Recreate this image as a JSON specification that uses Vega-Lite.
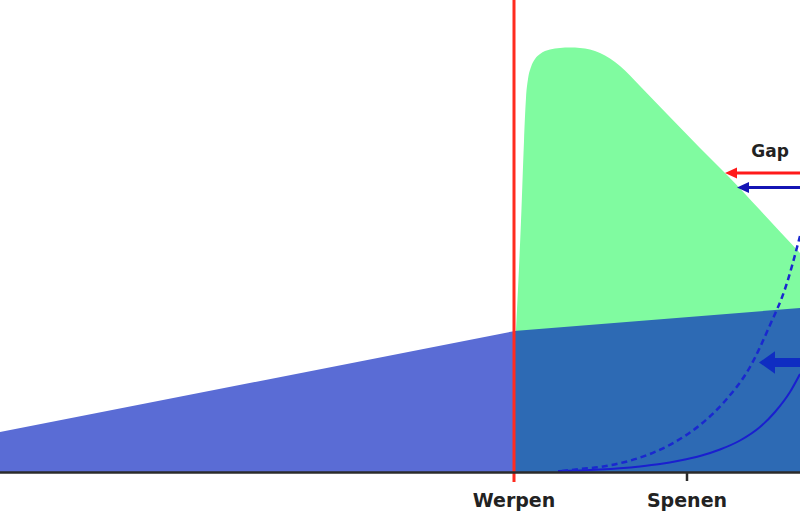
{
  "$schema": "https://vega.github.io/schema/vega-lite/v6.json",
  "width": 800,
  "height": 513,
  "autosize": {"type": "none"},
  "padding": 0,
  "background": "#ffffff",
  "config": {"view": {"stroke": null}},
  "datasets": {
    "green": [
      {"x": 516, "y": 141}, {"x": 521, "y": 250}, {"x": 524, "y": 330}, {"x": 526, "y": 373},
      {"x": 528, "y": 392}, {"x": 531, "y": 404}, {"x": 535, "y": 412}, {"x": 540, "y": 417},
      {"x": 550, "y": 421.5}, {"x": 560, "y": 423}, {"x": 570, "y": 423.5}, {"x": 580, "y": 423},
      {"x": 590, "y": 421.5}, {"x": 600, "y": 418}, {"x": 610, "y": 412.5}, {"x": 620, "y": 405},
      {"x": 630, "y": 395.5}, {"x": 640, "y": 385}, {"x": 667, "y": 357}, {"x": 700, "y": 323},
      {"x": 727, "y": 296}, {"x": 760, "y": 261}, {"x": 800, "y": 218}
    ],
    "blue": [{"x": 0, "y": 39}, {"x": 515, "y": 140}],
    "darkblue": [{"x": 514, "y": 140}, {"x": 800, "y": 163}],
    "solid": [
      {"x": 558, "y": 0}, {"x": 580, "y": 0.6}, {"x": 600, "y": 1.5}, {"x": 620, "y": 2.8},
      {"x": 640, "y": 4.6}, {"x": 660, "y": 7}, {"x": 680, "y": 10.5}, {"x": 700, "y": 15},
      {"x": 720, "y": 21.5}, {"x": 740, "y": 30.5}, {"x": 760, "y": 44}, {"x": 775, "y": 59},
      {"x": 790, "y": 79}, {"x": 800, "y": 97}
    ],
    "dashed": [
      {"x": 562, "y": 0}, {"x": 580, "y": 2}, {"x": 600, "y": 4}, {"x": 625, "y": 9},
      {"x": 650, "y": 17}, {"x": 675, "y": 29}, {"x": 700, "y": 46}, {"x": 725, "y": 70},
      {"x": 750, "y": 104}, {"x": 770, "y": 146}, {"x": 785, "y": 182}, {"x": 800, "y": 235}
    ],
    "labels": [
      {"x": 514, "y": -36, "text": "Werpen"},
      {"x": 687, "y": -36, "text": "Spenen"}
    ]
  },
  "encoding": {
    "x": {"type": "quantitative", "scale": {"domain": [0, 800], "nice": false, "zero": false}, "axis": null},
    "y": {"type": "quantitative", "scale": {"domain": [-42, 471], "nice": false, "zero": false}, "axis": null}
  },
  "layer": [
    {
      "data": {"name": "green"},
      "mark": {"type": "area", "interpolate": "monotone", "color": "#80fba0", "clip": true},
      "encoding": {"x": {"field": "x", "type": "quantitative"}, "y": {"field": "y", "type": "quantitative"}, "y2": {"datum": -1}}
    },
    {
      "data": {"name": "blue"},
      "mark": {"type": "area", "color": "#5a6cd5", "clip": true},
      "encoding": {"x": {"field": "x", "type": "quantitative"}, "y": {"field": "y", "type": "quantitative"}, "y2": {"datum": -1}}
    },
    {
      "data": {"name": "darkblue"},
      "mark": {"type": "area", "color": "#2d6ab4", "clip": true},
      "encoding": {"x": {"field": "x", "type": "quantitative"}, "y": {"field": "y", "type": "quantitative"}, "y2": {"datum": -1}}
    },
    {
      "data": {"name": "solid"},
      "mark": {"type": "line", "interpolate": "monotone", "color": "#1a1fcf", "strokeWidth": 2, "clip": true},
      "encoding": {"x": {"field": "x", "type": "quantitative"}, "y": {"field": "y", "type": "quantitative"}}
    },
    {
      "data": {"name": "dashed"},
      "mark": {"type": "line", "interpolate": "monotone", "color": "#1a28cf", "strokeWidth": 2.5, "strokeDash": [6, 4], "clip": true},
      "encoding": {"x": {"field": "x", "type": "quantitative"}, "y": {"field": "y", "type": "quantitative"}}
    },
    {
      "data": {"values": [{"x": 514, "y": 471, "y2": -11}]},
      "mark": {"type": "rule", "color": "#ff2b1f", "strokeWidth": 3},
      "encoding": {"x": {"field": "x", "type": "quantitative"}, "y": {"field": "y", "type": "quantitative"}, "y2": {"field": "y2"}}
    },
    {
      "data": {"values": [{"x": 0, "x2": 800, "y": -1.5}]},
      "mark": {"type": "rule", "color": "#2b2b2b", "strokeWidth": 2.5},
      "encoding": {"x": {"field": "x", "type": "quantitative"}, "x2": {"field": "x2"}, "y": {"field": "y", "type": "quantitative"}}
    },
    {
      "data": {"values": [{"x": 687, "y": -1, "y2": -10}]},
      "mark": {"type": "rule", "color": "#2b2b2b", "strokeWidth": 2.5},
      "encoding": {"x": {"field": "x", "type": "quantitative"}, "y": {"field": "y", "type": "quantitative"}, "y2": {"field": "y2"}}
    },
    {
      "data": {"values": [{"x": 734, "x2": 800, "y": 298}]},
      "mark": {"type": "rule", "color": "#ff1a1a", "strokeWidth": 3},
      "encoding": {"x": {"field": "x", "type": "quantitative"}, "x2": {"field": "x2"}, "y": {"field": "y", "type": "quantitative"}}
    },
    {
      "data": {"values": [{"x": 731, "y": 298}]},
      "mark": {"type": "point", "shape": "M -1 0 L 1 -0.9 L 1 0.9 Z", "filled": true, "size": 144, "color": "#ff1a1a", "opacity": 1, "strokeWidth": 0},
      "encoding": {"x": {"field": "x", "type": "quantitative"}, "y": {"field": "y", "type": "quantitative"}}
    },
    {
      "data": {"values": [{"x": 746, "x2": 800, "y": 283.5}]},
      "mark": {"type": "rule", "color": "#1414b4", "strokeWidth": 3},
      "encoding": {"x": {"field": "x", "type": "quantitative"}, "x2": {"field": "x2"}, "y": {"field": "y", "type": "quantitative"}}
    },
    {
      "data": {"values": [{"x": 743, "y": 283.5}]},
      "mark": {"type": "point", "shape": "M -1 0 L 1 -0.9 L 1 0.9 Z", "filled": true, "size": 144, "color": "#1414b4", "opacity": 1, "strokeWidth": 0},
      "encoding": {"x": {"field": "x", "type": "quantitative"}, "y": {"field": "y", "type": "quantitative"}}
    },
    {
      "data": {"values": [{"x": 772, "x2": 800, "y": 108.5}]},
      "mark": {"type": "rule", "color": "#0f2dc2", "strokeWidth": 9},
      "encoding": {"x": {"field": "x", "type": "quantitative"}, "x2": {"field": "x2"}, "y": {"field": "y", "type": "quantitative"}}
    },
    {
      "data": {"values": [{"x": 767, "y": 108.5}]},
      "mark": {"type": "point", "shape": "M -1 0 L 1 -1.4 L 1 1.4 Z", "filled": true, "size": 256, "color": "#0f2dc2", "opacity": 1, "strokeWidth": 0},
      "encoding": {"x": {"field": "x", "type": "quantitative"}, "y": {"field": "y", "type": "quantitative"}}
    },
    {
      "data": {"values": [{"x": 770, "y": 314, "text": "Gap"}]},
      "mark": {"type": "text", "font": "DejaVu Sans", "fontWeight": "bold", "fontSize": 17, "color": "#222222", "baseline": "alphabetic", "align": "center"},
      "encoding": {"x": {"field": "x", "type": "quantitative"}, "y": {"field": "y", "type": "quantitative"}, "text": {"field": "text"}}
    },
    {
      "data": {"name": "labels"},
      "mark": {"type": "text", "font": "DejaVu Sans", "fontWeight": "bold", "fontSize": 19, "color": "#222222", "baseline": "alphabetic", "align": "center"},
      "encoding": {"x": {"field": "x", "type": "quantitative"}, "y": {"field": "y", "type": "quantitative"}, "text": {"field": "text"}}
    }
  ]
}
